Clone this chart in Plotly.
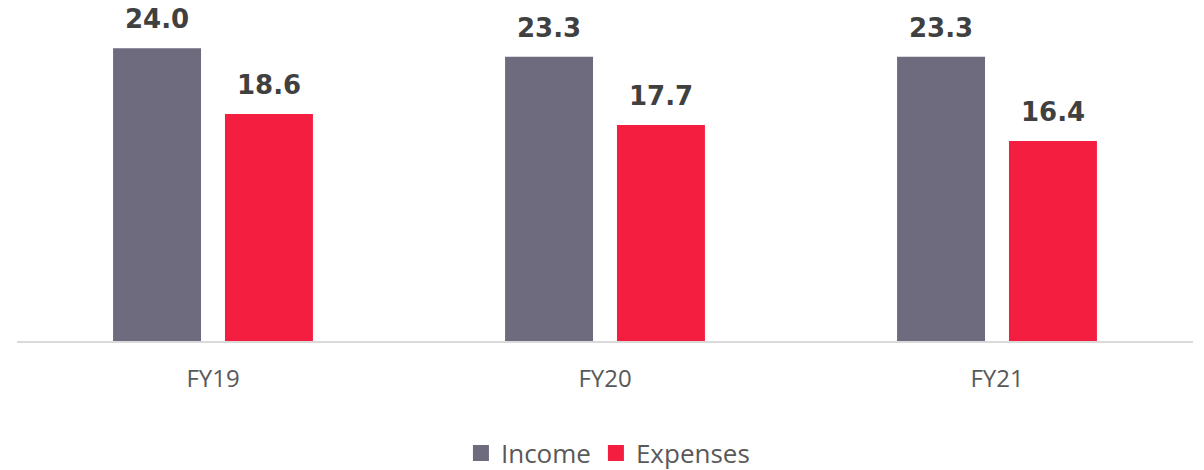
import plotly.graph_objects as go

categories = ["FY19", "FY20", "FY21"]
income = [24.0, 23.3, 23.3]
expenses = [18.6, 17.7, 16.4]

INC_COLOR = "#6D6B7D"
EXP_COLOR = "#F41F40"

fig = go.Figure()
fig.add_trace(go.Bar(name="Income", x=categories, y=income, showlegend=False,
                     marker=dict(color=INC_COLOR, line=dict(width=0))))
fig.add_trace(go.Bar(name="Expenses", x=categories, y=expenses, showlegend=False,
                     marker=dict(color=EXP_COLOR, line=dict(width=0))))
# legend entries with larger square symbols
fig.add_trace(go.Scatter(name="Income", x=[None], y=[None], mode="markers",
                         marker=dict(symbol="square", size=17, color=INC_COLOR)))
fig.add_trace(go.Scatter(name="Expenses", x=[None], y=[None], mode="markers",
                         marker=dict(symbol="square", size=17, color=EXP_COLOR)))

label_font = dict(family="DejaVu Sans", size=26, color="#404040", weight="bold")
annotations = []
for cat, v in zip(categories, income):
    annotations.append(dict(x=cat, y=v, xref="x", yref="y", text=f"{v:.1f}", showarrow=False,
                            xshift=-56, yshift=12, yanchor="bottom", font=label_font))
for cat, v in zip(categories, expenses):
    annotations.append(dict(x=cat, y=v, xref="x", yref="y", text=f"{v:.1f}", showarrow=False,
                            xshift=56, yshift=12, yanchor="bottom", font=label_font))

fig.update_layout(
    width=1196, height=462,
    margin=dict(l=9, r=11, t=2, b=129),
    paper_bgcolor="white", plot_bgcolor="white",
    barmode="group", bargap=0.429, bargroupgap=0.214,
    annotations=annotations,
    showlegend=True,
    legend=dict(orientation="h", x=0.5025, xanchor="center", xref="paper",
                yref="container", y=0.0368, yanchor="middle",
                font=dict(family="Open Sans", size=26, color="#595959"),
                itemsizing="trace", traceorder="normal"),
    xaxis=dict(showline=True, linecolor="#D9D9D9", linewidth=2, ticks="outside", tickcolor="rgba(0,0,0,0)",
               ticklen=15, tickfont=dict(family="Open Sans", size=24, color="#595959"), showgrid=False),
    yaxis=dict(range=[0, 27.13], visible=False, showgrid=False, zeroline=False),
)

fig.write_html("out.html")
